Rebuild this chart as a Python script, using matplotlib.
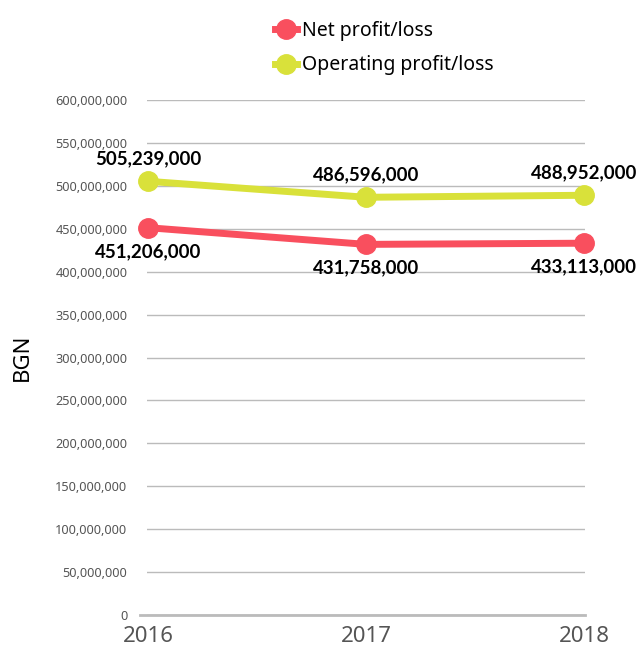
import matplotlib
matplotlib.use("Agg")
import matplotlib.pyplot as plt
from matplotlib.ticker import FuncFormatter

plt.rcParams['font.family'] = ['Noto Sans', 'DejaVu Sans']

# chart data
years = ['2016', '2017', '2018']
net_profit = [451206000, 431758000, 433113000]
operating_profit = [505239000, 486596000, 488952000]
y_ticks = list(range(0, 600000001, 50000000))

red = '#F94F5E'
yellow = '#D9E13A'

fig = plt.figure(figsize=(6.41, 6.53), dpi=100)
ax = fig.add_axes([0.229, 0.058, 0.684, 0.789])

x = list(range(len(years)))
ax.plot(x, net_profit, color=red, lw=5, marker='o', ms=14, clip_on=False,
        zorder=3, label='Net profit/loss')
ax.plot(x, operating_profit, color=yellow, lw=5, marker='o', ms=14, clip_on=False,
        zorder=3, label='Operating profit/loss')

# value labels (Lato has a real bold face)
lbl = dict(textcoords='offset points', ha='center', fontsize=13.5,
           fontweight='bold', family=['Lato', 'DejaVu Sans'])
for xi, v in zip(x, operating_profit):
    ax.annotate(f'{v:,}', (xi, v), xytext=(0, 10), va='bottom', **lbl)
for xi, v in zip(x, net_profit):
    ax.annotate(f'{v:,}', (xi, v), xytext=(0, -11), va='top', **lbl)

ax.set_xlim(-0.005, 2.005)
ax.set_ylim(0, 600000000)
ax.set_yticks(y_ticks)
ax.yaxis.set_major_formatter(FuncFormatter(lambda v, p: f'{int(v):,}'))
ax.set_xticks(x)
ax.set_xticklabels(years)
ax.tick_params(axis='y', length=0, pad=14, labelsize=9.2, labelcolor='#555555')
ax.tick_params(axis='x', length=0, pad=8, labelsize=16, labelcolor='#555555')

ax.grid(axis='y', color='#BBBBBB', lw=1)
ax.set_axisbelow(True)
for s in ax.spines.values():
    s.set_visible(False)
ax.axhline(0, color='#BBBBBB', lw=2, xmin=-0.015, clip_on=False, zorder=1)

ax.set_ylabel('BGN', fontsize=16, labelpad=16)

leg = fig.legend(loc='upper center', bbox_to_anchor=(0.6, 0.995), frameon=False,
                 fontsize=14, handlelength=1.1, handletextpad=0.3,
                 labelspacing=0.75, markerscale=1.0)

fig.savefig('out.png', dpi=100)
